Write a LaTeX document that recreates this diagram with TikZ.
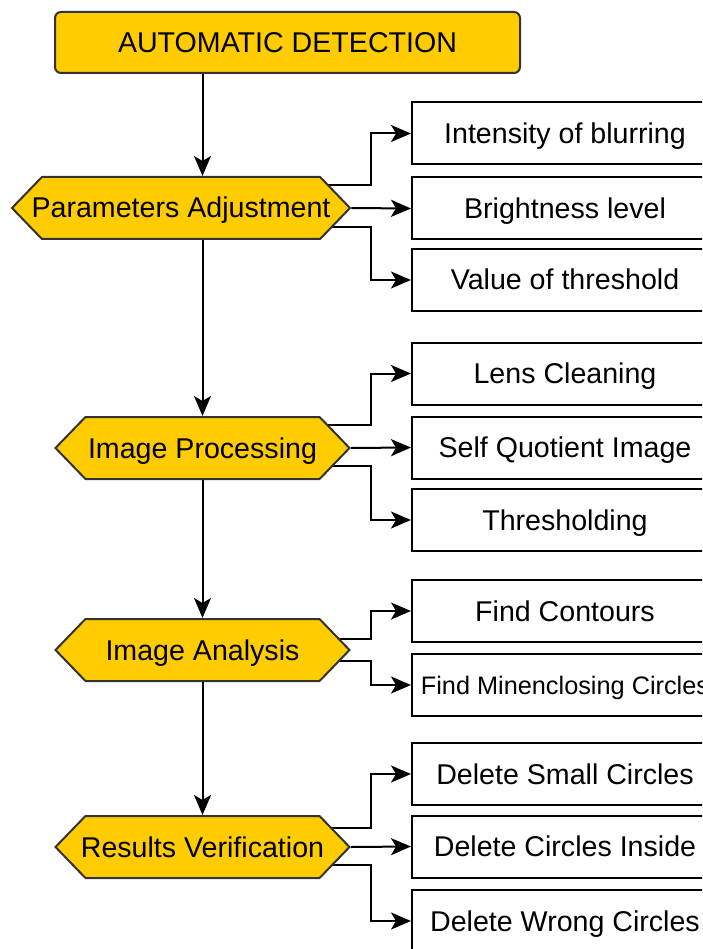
\documentclass[tikz,border=0pt]{standalone}
\usepackage{fontspec}
\setmainfont{Liberation Sans}
\usepackage[dvipsnames]{xcolor}
\usetikzlibrary{shapes.symbols, arrows.meta, backgrounds}

\definecolor{Amber}{HTML}{FFCC00}
\definecolor{Edge}{HTML}{333333}

\begin{document}
\begin{tikzpicture}[x=1pt, y=-1pt,
	stage/.style={draw=Edge, line width=2pt, fill=Amber, signal, signal to=west and east, signal pointer angle=92, minimum height=62pt, inner sep=0pt, inner xsep=-12pt, text height=20pt, text depth=0pt, font=\fontsize{28.6}{34}\selectfont},
	task/.style={draw, line width=2pt, fill=white, minimum width=306pt, minimum height=62pt, inner sep=0pt, text height=20pt, text depth=0pt, font=\fontsize{28.6}{34}\selectfont},
	flow/.style={line width=2pt, -{Stealth[length=20pt, width=17pt, inset=5pt]}}]
	\useasboundingbox (0,0) rectangle (702,949);
	\clip (0,0) rectangle (702,949);

	\node[draw=Edge, line width=2pt, fill=Amber, rounded corners=6pt, minimum width=465pt, minimum height=61pt, text height=20pt, text depth=0pt, font=\fontsize{28.6}{34}\selectfont] (auto) at (287.5,42.5) {AUTOMATIC DETECTION};

	% main steps
	\node[stage, minimum width=338pt] (param) at (181,208) {Parameters Adjustment};
	\node[stage, minimum width=294pt] (proc) at (202.5,448) {Image Processing};
	\node[stage, minimum width=294pt] (anal) at (202.5,650) {Image Analysis};
	\node[stage, minimum width=294pt] (verif) at (202.5,847) {Results Verification};

	% sub steps
	\node[task] (blur) at (565,133.5) {Intensity of blurring};
	\node[task] (bright) at (565,208.5) {Brightness level};
	\node[task] (thresh) at (565,280) {Value of threshold};

	\node[task] (lens) at (565,373.5) {Lens Cleaning};
	\node[task] (sqi) at (565,447.5) {Self Quotient Image};
	\node[task] (binar) at (565,520) {Thresholding};

	\node[task] (contours) at (565,611) {Find Contours};
	\node[task, text height=18pt, font=\fontsize{25.3}{30}\selectfont] (minenc) at (565,685) {Find Minenclosing Circles};

	\node[task] (small) at (565,774) {Delete Small Circles};
	\node[task] (inside) at (565,846.5) {Delete Circles Inside};
	\node[task] (wrong) at (565,921) {Delete Wrong Circles};

	\draw[flow] (auto.south -| proc.north) -- (param.north -| proc.north);
	\draw[flow] (param.south -| proc.north) -- (proc.north);
	\draw[flow] (proc.south) -- (anal.north);
	\draw[flow] (anal.south) -- (verif.north);

	\draw[flow] (param.east) -- (bright.west);
	\draw[flow] (proc.east) -- (sqi.west);
	\draw[flow] (verif.east) -- (inside.west);

	\begin{scope}[on background layer]
		\draw[flow] ([yshift=23pt]param.center) -- ++(190,0) |- (blur.west);
		\draw[flow] ([yshift=-19pt]param.center) -- ++(190,0) |- (thresh.west);
		\draw[flow] ([yshift=23pt]proc.center) -- ++(168.5,0) |- (lens.west);
		\draw[flow] ([yshift=-18pt]proc.center) -- ++(168.5,0) |- (binar.west);
		\draw[flow] ([yshift=11pt]anal.center) -- ++(168.5,0) |- (contours.west);
		\draw[flow] ([yshift=-11pt]anal.center) -- ++(168.5,0) |- (minenc.west);
		\draw[flow] ([yshift=19pt]verif.center) -- ++(168.5,0) |- (small.west);
		\draw[flow] ([yshift=-18pt]verif.center) -- ++(168.5,0) |- (wrong.west);
	\end{scope}
\end{tikzpicture}
\end{document}
